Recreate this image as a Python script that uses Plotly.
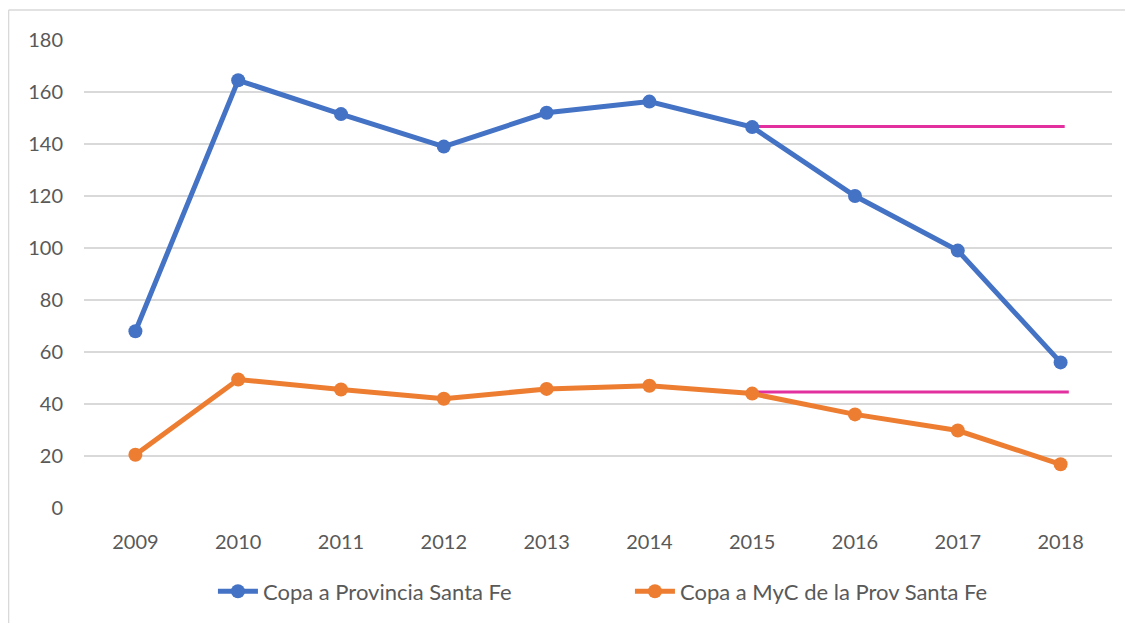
import plotly.graph_objects as go

years = ["2009", "2010", "2011", "2012", "2013", "2014", "2015", "2016", "2017", "2018"]
provincia = [68, 164.5, 151.5, 139, 152, 156.3, 146.5, 120, 99, 56]
myc = [20.5, 49.4, 45.6, 42, 45.8, 47, 44, 36, 29.8, 16.8]

# reference levels (magenta) drawn from 2015 onwards
ref_top_x = [5.93, 9.04]
ref_top_y = [146.7, 146.7]
ref_bot_x = [6.02, 9.08]
ref_bot_y = [44.6, 44.6]

BLUE = "#4472C4"
ORANGE = "#ED7D31"
MAGENTA = "#E2319F"
FONT = "Lato, 'Open Sans', sans-serif"

xi = list(range(len(years)))

fig = go.Figure()
fig.add_trace(go.Scatter(x=ref_top_x, y=ref_top_y, mode="lines",
                         line=dict(color=MAGENTA, width=3), showlegend=False, hoverinfo="skip"))
fig.add_trace(go.Scatter(x=ref_bot_x, y=ref_bot_y, mode="lines",
                         line=dict(color=MAGENTA, width=3), showlegend=False, hoverinfo="skip"))
fig.add_trace(go.Scatter(x=xi, y=provincia, mode="lines+markers", name="Copa a Provincia Santa Fe",
                         line=dict(color=BLUE, width=5), marker=dict(size=14, color=BLUE)))
fig.add_trace(go.Scatter(x=xi, y=myc, mode="lines+markers", name="Copa a MyC de la Prov Santa Fe",
                         line=dict(color=ORANGE, width=5), marker=dict(size=14, color=ORANGE)))

# page body has an 8px margin, so the figure is slightly smaller than the window
OFF = 8
W, H = 1133 - OFF, 623 - OFF
L, T = 84 - OFF, 40 - OFF
R = W - (1112.5 - OFF)
B = H - (509.5 - OFF)
pw = W - L - R
ph = H - T - B

legend_y = -((592 - OFF) - (H - B)) / ph
legend_x = (203 - 84 + 10) / pw

fig.update_layout(
    width=W, height=H,
    margin=dict(l=L, r=R, t=T, b=B, pad=0),
    paper_bgcolor="white", plot_bgcolor="white",
    font=dict(family=FONT, color="#595959", size=20),
    xaxis=dict(range=[-0.5, 9.5], tickmode="array", tickvals=xi, ticktext=years,
               showgrid=False, zeroline=False, showline=False, ticks="",
               ticklabelstandoff=20, tickfont=dict(size=20, color="#595959")),
    yaxis=dict(range=[0, 180], dtick=20, showgrid=True, gridcolor="#D9D9D9", gridwidth=1.5,
               zeroline=False, showline=False, ticks="", ticklabelstandoff=20,
               tickfont=dict(size=20, color="#595959")),
    legend=dict(orientation="h", x=legend_x, xanchor="left", y=legend_y,
                yanchor="middle", font=dict(size=22, color="#595959"),
                itemwidth=40, entrywidth=362, entrywidthmode="pixels",
                traceorder="normal", bgcolor="rgba(0,0,0,0)"),
    showlegend=True,
)

# outer chart-area border (left and top edges visible)
bx = (0.5 - L) / pw
by = (H - B - 2) / ph
fig.add_shape(type="line", xref="paper", yref="paper", x0=bx, x1=bx, y0=by, y1=-(B + 5) / ph,
              line=dict(color="#D9D9D9", width=1.5))
fig.add_shape(type="line", xref="paper", yref="paper", x0=bx, x1=(W + 5 - L) / pw, y0=by, y1=by,
              line=dict(color="#D9D9D9", width=1.5))

fig.write_html("out.html")
